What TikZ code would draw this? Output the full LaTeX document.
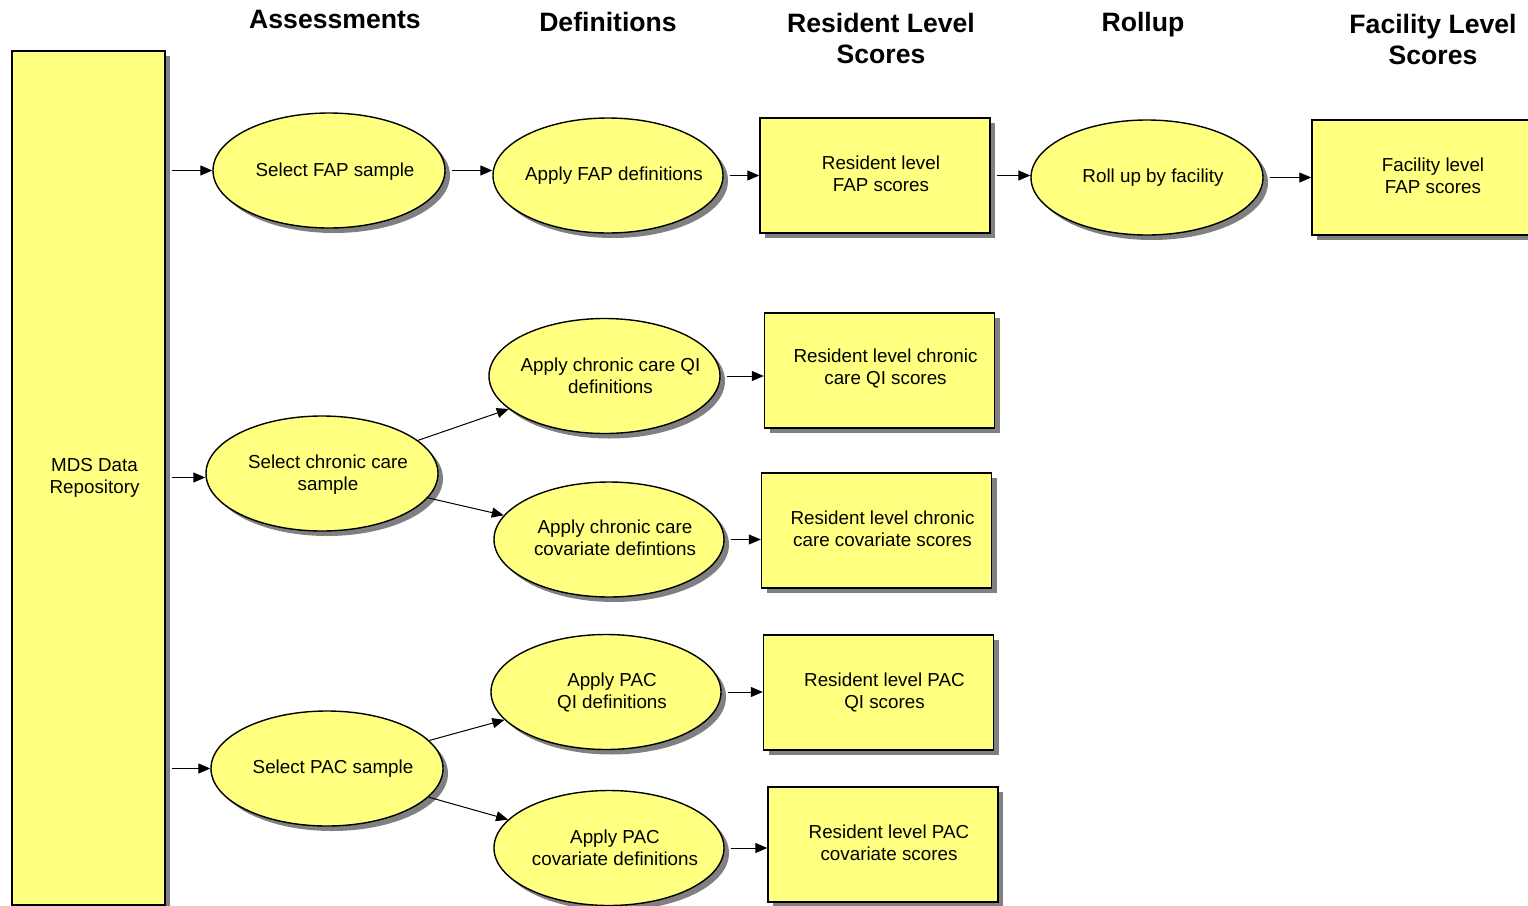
\documentclass[tikz,border=0pt]{standalone}
\usepackage{fontspec}
\setmainfont{Liberation Sans}
\usetikzlibrary{shadows,arrows.meta,shapes.geometric}
\definecolor{boxfill}{RGB}{255,255,128}
\begin{document}
\begin{tikzpicture}[x=0.5pt,y=-0.5pt,
 shad/.style={drop shadow={shadow xshift=2.5pt,shadow yshift=-2.5pt,fill=black!50,opacity=1}},
 txt/.style={font=\fontsize{9.4}{11}\selectfont,align=center,inner sep=0pt,xshift=3pt},
 ell/.style={ellipse,draw=black,line width=0.7pt,fill=boxfill,shad,minimum width=116pt,minimum height=57.5pt,inner sep=0pt},
 box/.style={rectangle,draw=black,line width=0.7pt,fill=boxfill,shad,minimum width=115pt,minimum height=57.5pt,inner sep=0pt},
 hdr/.style={font=\bfseries\fontsize{13.3}{15.5}\selectfont,align=center},
 arr/.style={-{Triangle[length=6pt,width=5pt]},line width=0.5pt},
 harr/.style={arr,shorten <=3pt}]
\useasboundingbox (0,0) rectangle (1528,906);
\clip (0,0) rectangle (1528,906);
% headers
\node[hdr] (h1) at (335,19) {Assessments};
\node[hdr] (h2) at (608,22) {Definitions};
\node[hdr] (h3) at (881,38) {Resident Level\\Scores};
\node[hdr] (h4) at (1143,25) {Rollup};
\node[hdr] (h5) at (1433,39) {Facility Level\\Scores};
% shapes
\node[box,minimum width=76.5pt,minimum height=427pt] (mds) at (88.5,478) {};
\node[ell] (sfs) at (329,170.5) {};
\node[ell,minimum width=115pt] (afd) at (608,175.5) {};
\node[box] (rfs) at (875,175.5) {};
\node[ell] (rup) at (1147,177.5) {};
\node[box] (ffs) at (1427,177.5) {};
\node[ell] (scs) at (322,473.5) {};
\node[ell,minimum width=115.5pt] (acq) at (604.5,376) {};
\node[box] (rcq) at (879.5,370.5) {};
\node[ell,minimum width=115pt] (acc) at (609,539.5) {};
\node[box] (rcc) at (876.5,530.5) {};
\node[ell] (sps) at (327,768.5) {};
\node[ell,minimum width=115pt] (apq) at (606,692) {};
\node[box] (rpq) at (878.5,692.5) {};
\node[ell,minimum width=115pt] (apc) at (609,848) {};
\node[box] (rpc) at (883,844.5) {};
% texts
\node[txt] (mds-t) at (mds) {MDS Data\\Repository};
\node[txt] (sfs-t) at ([yshift=-0.5pt]sfs) {Select FAP sample};
\node[txt] (afd-t) at (afd) {Apply FAP definitions};
\node[txt] (rfs-t) at ([yshift=1pt]rfs) {Resident level\\FAP scores};
\node[txt] (rup-t) at (rup) {Roll up by facility};
\node[txt] (ffs-t) at ([yshift=1pt]ffs) {Facility level\\FAP scores};
\node[txt] (scs-t) at ([yshift=-0.5pt]scs) {Select chronic care\\sample};
\node[txt] (acq-t) at (acq) {Apply chronic care QI\\definitions};
\node[txt] (rcq-t) at ([yshift=1pt]rcq) {Resident level chronic\\care QI scores};
\node[txt] (acc-t) at ([yshift=1pt]acc) {Apply chronic care\\covariate defintions};
\node[txt] (rcc-t) at ([yshift=1pt]rcc) {Resident level chronic\\care covariate scores};
\node[txt] (sps-t) at (sps) {Select PAC sample};
\node[txt] (apq-t) at (apq) {Apply PAC\\QI definitions};
\node[txt] (rpq-t) at (rpq) {Resident level PAC\\QI scores};
\node[txt] (apc-t) at (apc) {Apply PAC\\covariate definitions};
\node[txt] (rpc-t) at ([yshift=1pt]rpc) {Resident level PAC\\covariate scores};
% connectors
\draw[harr] (mds.east |- sfs.west) -- (sfs.west);
\draw[harr] (sfs.east) -- (sfs.east -| afd.west);
\draw[harr] (afd.east) -- (rfs.west);
\draw[harr] (rfs.east) -- (rfs.east -| rup.west);
\draw[harr] (rup.east) -- (ffs.west);
\draw[harr] ([yshift=-2pt]mds.east |- scs.west) -- ([yshift=-2pt]scs.west);
\draw[arr] (scs) -- (acq);
\draw[arr] (scs) -- (acc);
\draw[harr] (acq.east) -- (acq.east -| rcq.west);
\draw[harr] (acc.east) -- (acc.east -| rcc.west);
\draw[harr] (mds.east |- sps.west) -- (sps.west);
\draw[arr] (sps) -- (apq);
\draw[arr] (sps) -- (apc);
\draw[harr] (apq.east) -- (apq.east -| rpq.west);
\draw[harr] (apc.east) -- (apc.east -| rpc.west);
\end{tikzpicture}
\end{document}
